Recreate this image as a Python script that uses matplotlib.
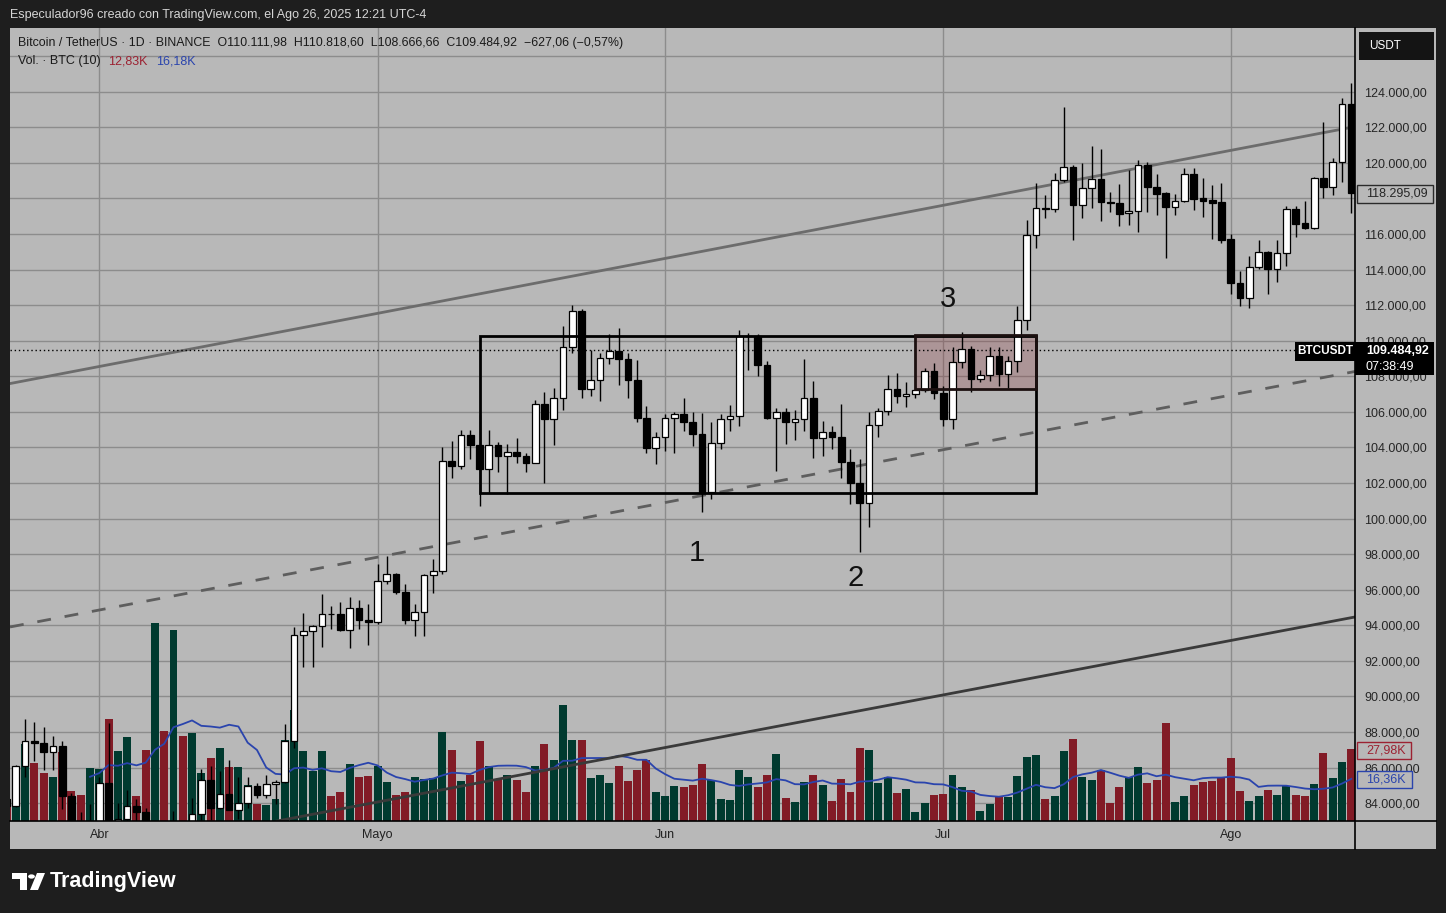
"""
Recreate the BTCUSDT daily TradingView chart with volume and drawings.
"""

import matplotlib

matplotlib.use("Agg")
import matplotlib.dates as mdates
import matplotlib.pyplot as plt
import matplotlib.transforms as mtransforms
import numpy as np
import pandas as pd
from matplotlib.lines import Line2D
from matplotlib.patches import Circle, Polygon, Rectangle

W, H = 1446, 913

dates = pd.date_range("2025-03-22", "2025-08-14", freq="D")

# OHLC in thousands of USDT, one value per day (Mar 22 .. Aug 14)
opens_k = [
    84.22, 83.84, 86.08, 87.47, 87.39, 86.90, 87.23, 84.42, 82.65, 82.39,
    82.55, 85.16, 82.52, 83.10, 83.84, 83.50, 78.37, 79.14, 76.27, 82.59,
    79.59, 83.40, 85.28, 83.74, 84.54, 83.63, 84.03, 84.94, 84.45, 85.06,
    85.17, 87.51, 93.44, 93.70, 93.98, 94.64, 94.63, 93.75, 94.98, 94.28,
    94.17, 96.49, 96.91, 95.89, 94.32, 94.75, 96.83, 97.03, 103.26, 102.97,
    104.70, 104.12, 102.80, 104.16, 103.54, 103.74, 103.49, 103.12, 106.45, 105.61,
    106.80, 109.65, 111.67, 107.29, 107.79, 109.04, 109.44, 108.99, 107.80, 105.64,
    103.98,
    104.59, 105.64, 105.88, 105.43, 104.73, 101.52, 104.25, 105.61, 105.79, 110.26,
    110.27, 108.65, 105.67, 105.98, 105.41, 105.58, 106.79, 104.55, 104.88, 104.59,
    103.18, 102.00, 100.88, 105.26, 106.05, 107.28, 106.89, 107.00, 107.23, 108.30,
    107.06, 105.60, 108.80, 109.53, 107.85, 108.07, 109.14, 108.13, 108.86, 111.16,
    115.94, 117.46, 117.40, 119.03, 119.76, 117.63, 118.58, 119.06, 117.80, 117.74,
    117.18, 117.29, 119.87, 118.64, 118.30, 117.51, 117.85, 119.37, 118.02, 117.91,
    117.79,
    115.72, 113.24, 112.40, 114.14, 114.98, 114.03, 114.93, 117.40, 116.61, 116.33,
    119.14, 118.64, 120.04, 123.31,
]
highs_k = [
    84.50, 86.13, 88.76, 88.54, 88.29, 87.79, 87.52, 84.58, 83.52, 83.95,
    85.49, 88.50, 83.99, 84.72, 84.23, 83.75, 81.24, 80.86, 83.59, 82.70,
    84.30, 85.90, 86.10, 85.80, 86.43, 85.50, 85.47, 85.13, 85.60, 85.32,
    88.46, 93.89, 94.70, 94.00, 95.75, 95.10, 95.30, 95.60, 95.45, 95.20,
    97.44, 97.90, 96.95, 96.30, 95.20, 96.90, 97.73, 104.00, 104.36, 104.97,
    104.96, 105.82, 104.99, 104.33, 104.20, 104.55, 103.70, 106.66, 107.10, 107.32,
    110.80, 111.98, 111.80, 109.45, 109.30, 110.40, 110.72, 109.30, 108.90, 106.32,
    104.88,
    105.88, 105.97, 106.80, 106.00, 105.95, 105.40, 105.90, 106.38, 110.60, 110.45,
    110.40, 108.85, 106.20, 106.20, 106.10, 108.95, 107.75, 105.50, 105.20, 106.44,
    103.90, 103.34, 106.00, 106.22, 108.07, 108.18, 107.68, 107.28, 108.46, 108.75,
    107.45, 109.64, 110.49, 109.70, 108.35, 109.64, 109.64, 109.14, 111.95, 116.78,
    118.87, 118.20, 119.43, 123.13, 119.87, 120.00, 120.94, 120.77, 118.36, 118.80,
    119.59, 120.15, 120.04, 119.37, 118.36, 118.24, 119.70, 119.70, 119.14, 118.75,
    118.86,
    115.99, 113.92, 114.76, 115.66, 115.04, 115.66, 117.57, 117.57, 117.85, 119.20,
    122.29, 120.27, 123.64, 124.47,
]
lows_k = [
    83.65, 83.78, 85.50, 86.35, 85.86, 85.86, 83.65, 81.65, 81.56, 81.28,
    82.43, 82.32, 81.16, 81.66, 82.37, 77.15, 74.50, 76.23, 74.62, 78.46,
    78.94, 82.05, 83.03, 83.67, 83.60, 83.11, 83.74, 84.30, 84.32, 83.95,
    85.14, 87.10, 91.65, 91.66, 92.80, 93.80, 93.70, 92.70, 93.80, 92.90,
    94.10, 96.30, 95.77, 94.10, 93.40, 93.40, 95.80, 96.90, 102.30, 102.80,
    103.35, 100.72, 101.43, 102.60, 101.38, 103.10, 102.60, 103.10, 102.00, 104.15,
    106.10, 109.30, 106.80, 106.90, 106.60, 108.70, 107.50, 106.80, 105.40, 103.70,
    103.07,
    103.80, 103.70, 104.90, 104.10, 100.37, 101.10, 103.90, 104.90, 105.20, 108.35,
    108.00, 105.60, 102.70, 104.20, 104.40, 104.95, 103.40, 103.50, 103.90, 102.28,
    100.80, 98.10, 99.52, 104.59, 105.82, 106.50, 106.27, 106.78, 107.12, 106.72,
    105.20, 105.04, 108.46, 107.12, 107.68, 107.73, 107.45, 107.34, 108.24, 110.60,
    115.21, 116.90, 117.23, 118.92, 115.66, 116.90, 117.46, 116.73, 117.23, 116.45,
    116.50, 116.10, 117.23, 117.06, 114.65, 117.06, 117.79, 117.34, 116.95, 115.71,
    115.49,
    112.65, 111.95, 111.84, 114.03, 112.62, 113.30, 114.20, 115.83, 116.28, 116.28,
    118.02, 118.19, 118.92, 117.18,
]
closes_k = [
    83.84, 86.08, 87.47, 87.39, 86.90, 87.23, 84.42, 82.65, 82.39, 82.55,
    85.16, 82.52, 83.10, 83.84, 83.50, 78.37, 79.14, 76.27, 82.59, 79.59,
    83.40, 85.28, 83.74, 84.54, 83.63, 84.03, 84.94, 84.45, 85.06, 85.17,
    87.51, 93.44, 93.70, 93.98, 94.64, 94.63, 93.75, 94.98, 94.28, 94.17,
    96.49, 96.91, 95.89, 94.32, 94.75, 96.83, 97.03, 103.26, 102.97, 104.70,
    104.12, 102.80, 104.16, 103.54, 103.74, 103.49, 103.12, 106.45, 105.61, 106.80,
    109.65, 111.67, 107.29, 107.79, 109.04, 109.44, 108.99, 107.80, 105.64, 103.98,
    104.59,
    105.64, 105.88, 105.43, 104.73, 101.52, 104.25, 105.61, 105.79, 110.26, 110.27,
    108.65, 105.67, 105.98, 105.41, 105.58, 106.79, 104.55, 104.88, 104.59, 103.18,
    102.00, 100.88, 105.26, 106.05, 107.28, 106.89, 107.00, 107.23, 108.30, 107.06,
    105.60, 108.80, 109.53, 107.85, 108.07, 109.14, 108.13, 108.86, 111.16, 115.94,
    117.46, 117.40, 119.03, 119.76, 117.63, 118.58, 119.06, 117.80, 117.74, 117.12,
    117.29, 119.87, 118.64, 118.24, 117.51, 117.85, 119.37, 117.96, 117.85, 117.74,
    115.66,
    113.24, 112.40, 114.14, 114.98, 114.03, 114.93, 117.40, 116.56, 116.33, 119.14,
    118.64, 120.04, 123.31, 118.295,
]
# volume in thousands of BTC
volumes_k = [
    5.9, 8.6, 30.0, 22.6, 18.6, 17.3, 27.0, 11.7, 10.1, 20.7,
    20.2, 39.8, 27.3, 32.9, 9.9, 27.8, 77.3, 35.1, 74.5, 33.2,
    34.3, 18.8, 24.6, 28.5, 21.1, 21.1, 14.2, 6.6, 6.2, 8.4,
    31.6, 43.3, 27.3, 19.5, 27.3, 9.7, 11.3, 22.2, 17.2, 17.6,
    21.4, 15.2, 10.1, 11.3, 17.2, 16.4, 16.8, 34.7, 27.7, 15.6,
    17.9, 31.2, 21.4, 16.4, 17.9, 16.0, 11.3, 21.4, 30.0, 23.8,
    45.2, 31.6, 31.6, 16.8, 17.9, 14.8, 21.4, 15.6, 19.9, 23.8,
    11.3,
    9.7, 13.6, 13.3, 14.0, 22.2, 16.0, 8.6, 8.2, 19.9, 17.2,
    13.3, 17.9, 26.1, 9.0, 7.4, 15.2, 17.9, 14.0, 7.8, 16.4,
    11.3, 28.5, 27.7, 14.8, 17.2, 10.9, 12.5, 3.5, 7.0, 10.1,
    10.5, 17.9, 13.3, 12.1, 3.9, 6.6, 9.7, 9.4, 17.5, 24.9,
    25.7, 8.6, 9.7, 27.3, 32.0, 17.2, 16.0, 19.9, 7.0, 13.3,
    17.2, 21.1, 14.8, 16.0, 38.2, 7.4, 9.7, 14.0, 15.2, 15.6,
    17.2,
    24.6, 11.7, 7.8, 9.7, 12.1, 10.1, 13.6, 10.1, 9.7, 14.4,
    26.5, 16.8, 23.0, 27.98,
]

month_ticks = ["2025-04-01", "2025-05-01", "2025-06-01", "2025-07-01", "2025-08-01"]
month_labels = ["Abr", "Mayo", "Jun", "Jul", "Ago"]
# 118.000 is covered by the last-close label on the scale, so it is not printed
price_ticks = [p for p in range(84000, 126000, 2000) if p != 118000]
grid_prices = list(range(84000, 128000, 2000))

# drawings: anchor dates and prices
upper_line_dates = ["2025-04-01", "2025-08-01"]
upper_line_prices = [108548, 120695]
dashed_line_dates = ["2025-04-01", "2025-08-01"]
dashed_line_prices = [94860, 106940]
lower_line_dates = ["2025-05-01", "2025-08-01"]
lower_line_prices = [84068, 93146]
range_box_dates = ["2025-05-12", "2025-07-11"]
range_box_prices = [101454, 110262]
pink_box_dates = ["2025-06-28", "2025-07-11"]
pink_box_prices = [107300, 110318]
last_price = 109484.92
marker_texts = ["1", "2", "3"]
marker_dates = ["2025-06-04 11:00", "2025-06-21 12:00", "2025-07-01 12:00"]
marker_prices = [98064, 96659, 112342]

GRAY = "#b8b8b8"
DARK = "#1e1e1e"
GRID = "#8c8c8c"
VOL_UP = "#003a2f"
VOL_DOWN = "#821b26"
MA_BLUE = "#2a44ad"


def fx(px: float) -> float:
    return px / W


def fy(py: float) -> float:
    return 1 - py / H


def fmt_price(v: float) -> str:
    s = f"{v:,.2f}"
    return s.replace(",", "X").replace(".", ",").replace("X", ".")


def fig_rect(fig, x0, y0, x1, y1, **kw):
    fig.add_artist(
        Rectangle((fx(x0), fy(y1)), fx(x1) - fx(x0), fy(y0) - fy(y1),
                  transform=fig.transFigure, **kw)
    )


def main() -> None:
    plt.rcParams["font.family"] = ["Liberation Sans", "DejaVu Sans"]

    x = mdates.date2num(dates)
    o = np.array(opens_k) * 1000
    h = np.array(highs_k) * 1000
    l = np.array(lows_k) * 1000
    c = np.array(closes_k) * 1000
    vol = np.array(volumes_k)
    vol_ma = pd.Series(vol).rolling(10).mean()

    fig = plt.figure(figsize=(W / 100, H / 100), dpi=100)
    fig.patch.set_facecolor(DARK)
    fig_rect(fig, 10, 28, 1436, 849, facecolor=GRAY, edgecolor="none", zorder=-1)

    rect = [fx(10), fy(821), (1355 - 10) / W, (821 - 28) / H]
    ax_vol = fig.add_axes(rect, zorder=0)
    ax = fig.add_axes(rect, sharex=ax_vol, zorder=1)
    for a in (ax_vol, ax):
        a.set_facecolor("none")
        for sp in a.spines.values():
            sp.set_visible(False)

    x0 = mdates.date2num(pd.Timestamp("2025-03-23"))
    ax.set_xlim(x0 - 0.629, x0 + 144.40)
    ax.set_ylim(83000, 127575)
    ax_vol.set_ylim(0, 793 / 2.565)
    ax_vol.set_autoscale_on(False)

    # grid (under the volume bars)
    trans = mtransforms.blended_transform_factory(ax_vol.transAxes, ax.transData)
    for p in grid_prices:
        ax_vol.plot([0, 1], [p, p], transform=trans, color=GRID, lw=1, zorder=0)
    for m in month_ticks:
        ax_vol.axvline(mdates.date2num(pd.Timestamp(m)), color=GRID, lw=1, zorder=0)

    # volume
    vol_colors = [VOL_UP if cc >= oo else VOL_DOWN for oo, cc in zip(o, c)]
    ax_vol.bar(x, vol, width=0.86, color=vol_colors, zorder=2)
    ax_vol.plot(x, vol_ma, color=MA_BLUE, lw=1.3, zorder=3)
    ax_vol.tick_params(left=False, bottom=False, labelleft=False, labelbottom=False)

    # drawings
    def anchors(ds, ps):
        return [(mdates.date2num(pd.Timestamp(d)), p) for d, p in zip(ds, ps)]

    p1, p2 = anchors(upper_line_dates, upper_line_prices)
    ax.axline(p1, p2, color="#6c6c6c", lw=2, zorder=2)
    p1, p2 = anchors(dashed_line_dates, dashed_line_prices)
    ax.axline(p1, p2, color="#5e5e5e", lw=2, ls=(0, (5, 5)), zorder=2)
    p1, p2 = anchors(lower_line_dates, lower_line_prices)
    ax.axline(p1, p2, color="#3a3a3a", lw=2, zorder=2)

    bx0, bx1 = [mdates.date2num(pd.Timestamp(d)) for d in range_box_dates]
    ax.add_patch(Rectangle((bx0, range_box_prices[0]), bx1 - bx0,
                           range_box_prices[1] - range_box_prices[0],
                           facecolor="none", edgecolor="black", lw=2, zorder=5))
    px0, px1 = [mdates.date2num(pd.Timestamp(d)) for d in pink_box_dates]
    ax.add_patch(Rectangle((px0, pink_box_prices[0]), px1 - px0,
                           pink_box_prices[1] - pink_box_prices[0],
                           facecolor=(0.55, 0.19, 0.21, 0.25), edgecolor="none", zorder=2))
    ax.add_patch(Rectangle((px0, pink_box_prices[0]), px1 - px0,
                           pink_box_prices[1] - pink_box_prices[0],
                           facecolor="none", edgecolor="#1c1010", lw=2, zorder=5))

    ax.axhline(last_price, color="black", lw=1, ls=(0, (1, 2)), zorder=2)

    # candles
    body_colors = ["white" if cc >= oo else "black" for oo, cc in zip(o, c)]
    ax.vlines(x, l, h, color="black", lw=1.0, zorder=3)
    ax.bar(x, np.abs(c - o), bottom=np.minimum(o, c), width=0.72,
           color=body_colors, edgecolor="black", linewidth=0.9, zorder=4)

    for t, d, p in zip(marker_texts, marker_dates, marker_prices):
        ax.text(mdates.date2num(pd.Timestamp(d)), p, t, fontsize=21,
                ha="center", va="center", color="#111111", zorder=6)

    # axes ticks
    ax.yaxis.tick_right()
    ax.set_yticks(price_ticks)
    ax.set_yticklabels([fmt_price(p) for p in price_ticks])
    ax.tick_params(axis="y", length=0, pad=6.5, labelsize=9, labelcolor="#262626")
    ax.set_xticks([mdates.date2num(pd.Timestamp(m)) for m in month_ticks])
    ax.set_xticklabels(month_labels)
    ax.tick_params(axis="x", length=0, pad=5.5, labelsize=9, labelcolor="#222222")

    # frame lines
    fig.add_artist(Line2D([fx(10), fx(1436)], [fy(821), fy(821)],
                          transform=fig.transFigure, color="black", lw=1.2, zorder=5))
    fig.add_artist(Line2D([fx(1355), fx(1355)], [fy(28), fy(849)],
                          transform=fig.transFigure, color="black", lw=1.2, zorder=5))

    # header and legend
    fig.text(fx(10), fy(15), "Especulador96 creado con TradingView.com, el Ago 26, 2025 12:21 UTC-4",
             color="#d6d6d6", fontsize=9, va="center", ha="left")
    fig.text(fx(18), fy(43),
             "Bitcoin / TetherUS · 1D · BINANCE  O110.111,98  H110.818,60  "
             "L108.666,66  C109.484,92  −627,06 (−0,57%)",
             color="#1a1a1a", fontsize=8.9, va="center", ha="left")
    fig.text(fx(18), fy(61), "Vol. · BTC (10)", color="#1a1a1a", fontsize=9, va="center")
    fig.text(fx(108), fy(61), "12,83K", color="#9c2232", fontsize=9, va="center")
    fig.text(fx(156), fy(61), "16,18K", color="#2a44ad", fontsize=9, va="center")

    # right-side labels
    fig_rect(fig, 1359, 32, 1434, 60, facecolor="#141414", edgecolor="none", zorder=5)
    fig.text(fx(1369), fy(46), "USDT", color="white", fontsize=8.5, va="center", zorder=6)

    fig_rect(fig, 1357, 185, 1433, 203, facecolor=GRAY, edgecolor="#2a2a2a", lw=1, zorder=5)
    fig.text(fx(1366), fy(194), "118.295,09", color="#262626", fontsize=9, va="center", zorder=6)

    fig_rect(fig, 1295, 342, 1356, 361, facecolor="black", edgecolor="none", zorder=5)
    fig.text(fx(1325.5), fy(351.5), "BTCUSDT", color="white", fontsize=8.5,
             fontweight="bold", ha="center", va="center", zorder=6)
    fig_rect(fig, 1355, 342, 1434, 375, facecolor="black", edgecolor="none", zorder=5)
    fig.text(fx(1366), fy(350.5), "109.484,92", color="white", fontsize=9,
             fontweight="bold", va="center", zorder=6)
    fig.text(fx(1366), fy(366.5), "07:38:49", color="white", fontsize=9, va="center", zorder=6)

    fig_rect(fig, 1357, 742, 1411, 759, facecolor=GRAY, edgecolor="#9c2232", lw=1, zorder=5)
    fig.text(fx(1366), fy(750.5), "27,98K", color="#9c2232", fontsize=9, va="center", zorder=6)
    fig_rect(fig, 1357, 771, 1412, 788, facecolor=GRAY, edgecolor="#2a44ad", lw=1, zorder=5)
    fig.text(fx(1366), fy(779.5), "16,36K", color="#2a44ad", fontsize=9, va="center", zorder=6)

    # TradingView logo
    logo = [(12, 873), (27, 873), (27, 890), (20, 890), (20, 879), (12, 879)]
    fig.add_artist(Polygon([(fx(a), fy(b)) for a, b in logo], closed=True,
                           transform=fig.transFigure, facecolor="white", edgecolor="none"))
    fig.add_artist(Circle((fx(31.5), fy(876.5)), 3.4 / W, transform=fig.transFigure,
                          facecolor="white", edgecolor="none"))
    vee = [(37, 873), (45, 873), (38, 890), (30, 890)]
    fig.add_artist(Polygon([(fx(a), fy(b)) for a, b in vee], closed=True,
                           transform=fig.transFigure, facecolor="white", edgecolor="none"))
    fig.text(fx(50), fy(881.5), "TradingView", color="white", fontsize=15.5,
             fontweight="bold", va="center")

    fig.savefig("out.png", dpi=100, facecolor=fig.get_facecolor())


if __name__ == "__main__":
    main()
